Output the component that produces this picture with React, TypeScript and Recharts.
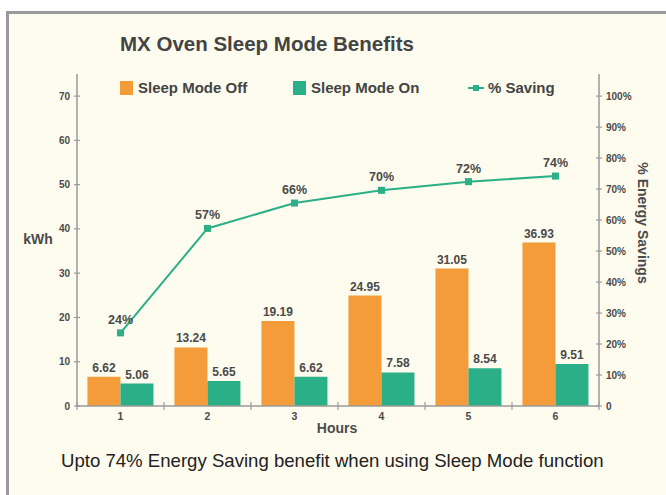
import { ComposedChart, Bar, Line, XAxis, YAxis, LabelList } from 'recharts'

const hours = ['1', '2', '3', '4', '5', '6']
const sleepOff = [6.62, 13.24, 19.19, 24.95, 31.05, 36.93]
const sleepOn = [5.06, 5.65, 6.62, 7.58, 8.54, 9.51]
const saving = [23.6, 57.3, 65.5, 69.6, 72.4, 74.2]
const kwhTicks = [0, 10, 20, 30, 40, 50, 60, 70]
const pctTicks = [0, 10, 20, 30, 40, 50, 60, 70, 80, 90, 100]

const data = hours.map((h, i) => ({ hour: h, off: sleepOff[i], on: sleepOn[i], saving: saving[i] }))

const ORANGE = '#F49C3A'
const GREEN = '#2AAF87'
const AXIS = '#9a9a9a'
const TXT = '#4a4a4a'
const BG = '#FEFCEE'
const FONT = '"Liberation Sans", Arial, sans-serif'

const W = 666
const H = 495
const M = { top: 74, right: 7, left: 17, bottom: 59 }
const Y_W = 60
const X_H = 30
const plotW = W - M.left - M.right - 2 * Y_W
const band = plotW / hours.length

function LeftTick(props: any) {
  const { x, y, payload } = props
  return (
    <g>
      <line x1={x + 4} x2={x + 10} y1={y} y2={y} stroke={AXIS} strokeWidth={1.2} />
      <text x={x} y={y} dy={3.5} textAnchor="end" fontSize={10} fontWeight="bold" fill={TXT} fontFamily={FONT}>
        {payload.value}
      </text>
    </g>
  )
}

function RightTick(props: any) {
  const { x, y, payload } = props
  return (
    <g>
      <line x1={x - 10} x2={x - 4} y1={y} y2={y} stroke={AXIS} strokeWidth={1.2} />
      <text x={x} y={y} dy={3.5} textAnchor="start" fontSize={10} fontWeight="bold" fill={TXT} fontFamily={FONT}>
        {payload.value === 0 ? '0' : `${payload.value}%`}
      </text>
    </g>
  )
}

function HourTick(props: any) {
  const { x, y, payload, index } = props
  const last = index === hours.length - 1
  return (
    <g>
      <line x1={x - band / 2} x2={x - band / 2} y1={y - 10} y2={y - 2} stroke={AXIS} strokeWidth={1.2} />
      {last && <line x1={x + band / 2} x2={x + band / 2} y1={y - 10} y2={y - 2} stroke={AXIS} strokeWidth={1.2} />}
      <text x={x} y={y} dy={8} textAnchor="middle" fontSize={10.5} fontWeight="bold" fill={TXT} fontFamily={FONT}>
        {payload.value}
      </text>
    </g>
  )
}

function SquareDot(props: any) {
  const { cx, cy } = props
  if (cx == null || cy == null) return null
  return <rect x={cx - 3.5} y={cy - 3.5} width={7} height={7} fill={GREEN} />
}

const labelStyle = { fontSize: 12, fontWeight: 'bold' as const, fill: TXT, fontFamily: FONT }

export default function App() {
  return (
    <div style={{ position: 'fixed', left: 0, top: 0, width: W, height: H, background: '#fff', overflow: 'hidden', fontFamily: FONT }}>
      <div style={{ position: 'absolute', left: 6, top: 11, width: 700, height: 520, background: BG, borderLeft: `3px solid ${AXIS}`, borderTop: `3px solid ${AXIS}` }} />
      <div style={{ position: 'absolute', left: 120, top: 32, fontSize: 20.5, fontWeight: 'bold', color: '#444', whiteSpace: 'nowrap' }}>
        MX Oven Sleep Mode Benefits
      </div>

      <div style={{ position: 'absolute', left: 120, top: 81, fontSize: 15, fontWeight: 'bold', color: '#444', lineHeight: '14px' }}>
        <span style={{ position: 'absolute', left: 0, top: 0, width: 13, height: 14, background: ORANGE }} />
        <span style={{ position: 'absolute', left: 18, top: 0, whiteSpace: 'nowrap' }}>Sleep Mode Off</span>
        <span style={{ position: 'absolute', left: 173, top: 0, width: 13, height: 14, background: GREEN }} />
        <span style={{ position: 'absolute', left: 191, top: 0, whiteSpace: 'nowrap' }}>Sleep Mode On</span>
        <span style={{ position: 'absolute', left: 348, top: 6, width: 16, height: 2, background: GREEN }} />
        <span style={{ position: 'absolute', left: 353, top: 4, width: 6, height: 6, background: GREEN }} />
        <span style={{ position: 'absolute', left: 368, top: 0, whiteSpace: 'nowrap' }}>% Saving</span>
      </div>

      <div style={{ position: 'absolute', left: 0, top: 0 }}>
        <ComposedChart width={W} height={H} data={data} margin={M} barCategoryGap="12%" barGap={0}>
          <XAxis
            dataKey="hour"
            height={X_H}
            stroke={AXIS}
            strokeWidth={1.5}
            tickLine={false}
            tickSize={0}
            tickMargin={6}
            tick={<HourTick />}
            interval={0}
            label={({ viewBox }: any) => (
              <text x={viewBox.x + viewBox.width / 2 - 1} y={viewBox.y + 27} textAnchor="middle" fontSize={14} fontWeight="bold" fill={TXT} fontFamily={FONT}>
                Hours
              </text>
            )}
          />
          <YAxis
            yAxisId="kwh"
            width={Y_W}
            domain={[0, 75]}
            ticks={kwhTicks}
            stroke={AXIS}
            strokeWidth={1.5}
            tickLine={false}
            tickSize={0}
            tickMargin={7}
            tick={<LeftTick />}
            interval={0}
            label={({ viewBox }: any) => (
              <text x={viewBox.x + 21} y={viewBox.y + viewBox.height / 2 + 4} textAnchor="middle" fontSize={14} fontWeight="bold" fill={TXT} fontFamily={FONT}>
                kWh
              </text>
            )}
          />
          <YAxis
            yAxisId="pct"
            orientation="right"
            width={Y_W}
            domain={[0, 750 / 7]}
            ticks={pctTicks}
            stroke={AXIS}
            strokeWidth={1.5}
            tickLine={false}
            tickSize={0}
            tickMargin={7}
            tick={<RightTick />}
            interval={0}
            label={({ viewBox }: any) => {
              const cx = viewBox.x + 39
              const cy = viewBox.y + 149
              return (
                <text x={cx} y={cy} transform={`rotate(90 ${cx} ${cy})`} textAnchor="middle" fontSize={14} fontWeight="bold" fill={TXT} fontFamily={FONT}>
                  % Energy Savings
                </text>
              )
            }}
          />
          <Bar yAxisId="kwh" dataKey="off" fill={ORANGE} isAnimationActive={false}>
            <LabelList dataKey="off" position="top" offset={5} style={labelStyle} formatter={(v: any) => Number(v).toFixed(2)} />
          </Bar>
          <Bar yAxisId="kwh" dataKey="on" fill={GREEN} isAnimationActive={false}>
            <LabelList dataKey="on" position="top" offset={5} style={labelStyle} formatter={(v: any) => Number(v).toFixed(2)} />
          </Bar>
          <Line
            yAxisId="pct"
            dataKey="saving"
            type="linear"
            stroke={GREEN}
            strokeWidth={2}
            dot={<SquareDot />}
            activeDot={false}
            isAnimationActive={false}
          >
            <LabelList dataKey="saving" position="top" offset={9} style={{ ...labelStyle, fontSize: 12.5 }} formatter={(v: any) => `${Math.round(Number(v))}%`} />
          </Line>
        </ComposedChart>
      </div>

      <div style={{ position: 'absolute', left: 61, top: 450, fontSize: 18.6, color: '#222', whiteSpace: 'nowrap' }}>
        Upto 74% Energy Saving benefit when using Sleep Mode function
      </div>
    </div>
  )
}
